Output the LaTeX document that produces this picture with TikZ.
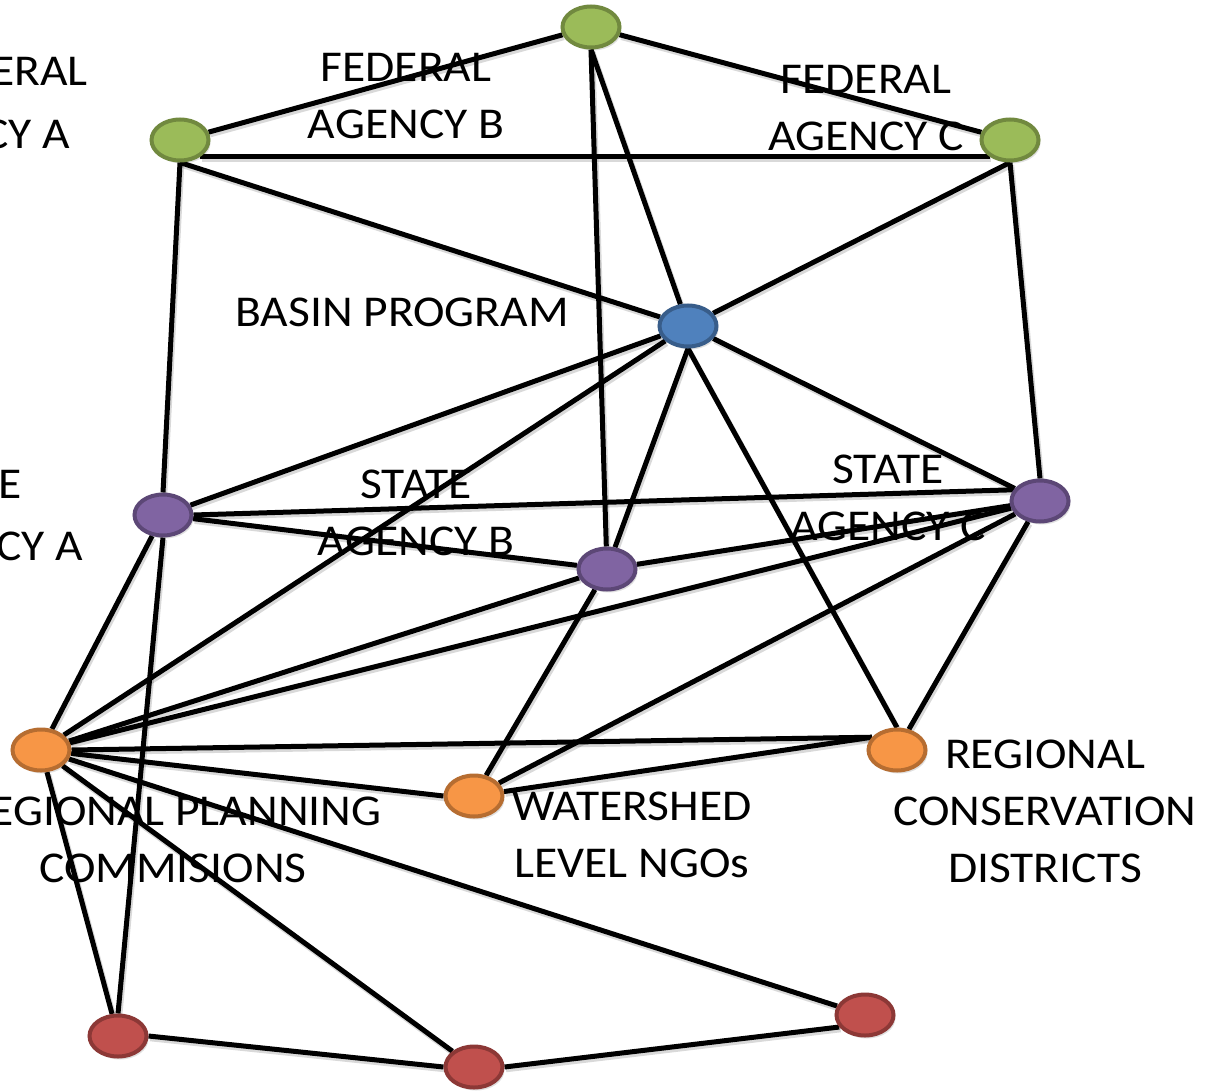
\documentclass[tikz,border=0pt]{standalone}
\usepackage{fontspec}
\setmainfont{Carlito}[FakeStretch=1.08]
\usetikzlibrary{shapes.geometric}
\pgfdeclarelayer{bg}
\pgfsetlayers{bg,main}

\definecolor{fedFill}{HTML}{9BBB59}\definecolor{fedLine}{HTML}{71893F}
\definecolor{basFill}{HTML}{4F81BD}\definecolor{basLine}{HTML}{385D8A}
\definecolor{staFill}{HTML}{8064A2}\definecolor{staLine}{HTML}{5C4776}
\definecolor{regFill}{HTML}{F79646}\definecolor{regLine}{HTML}{B66D31}
\definecolor{locFill}{HTML}{C0504D}\definecolor{locLine}{HTML}{8C3836}

\tikzset{
  actor/.style={ellipse, minimum width=57pt, minimum height=41pt, inner sep=0pt,
    line width=4pt,
    preaction={fill=black, opacity=0.12, transform canvas={shift={(2pt,-3pt)}}}},
  fedNode/.style={actor, fill=fedFill, draw=fedLine},
  basNode/.style={actor, fill=basFill, draw=basLine},
  staNode/.style={actor, fill=staFill, draw=staLine},
  regNode/.style={actor, fill=regFill, draw=regLine},
  locNode/.style={actor, fill=locFill, draw=locLine},
  tie/.style={line width=5pt, black,
    preaction={draw=black, opacity=0.15, line width=5.5pt,
      transform canvas={shift={(1.5pt,-2.5pt)}}}},
  lbl/.style={font=\fontsize{44}{57}\selectfont, align=center, inner sep=0pt},
}

\begin{document}
\begin{tikzpicture}[x=1pt, y=-1pt]
\useasboundingbox (0,0) rectangle (1217,1091);

% actors
\node[fedNode] (G1) at (591,27) {};
\node[fedNode] (G2) at (180,140) {};
\node[fedNode] (G3) at (1010,140) {};
\node[basNode] (B)  at (688,326) {};
\node[staNode] (P1) at (163,515) {};
\node[staNode] (P2) at (607,569) {};
\node[staNode] (P3) at (1040,501) {};
\node[regNode] (O1) at (41,750) {};
\node[regNode] (O2) at (474,796) {};
\node[regNode] (O3) at (897,750) {};
\node[locNode] (R1) at (118,1036) {};
\node[locNode] (R2) at (474,1067) {};
\node[locNode] (R3) at (865,1015) {};

% labels (base anchor = baseline of the last line)
\node[lbl, anchor=base east] (fedA1) at (88,86) {FEDERAL};
\node[lbl, anchor=base east] (fedA2) at (70,149) {AGENCY A};
\node[lbl, anchor=base] (fedB) at (406,139) {FEDERAL\\AGENCY B};
\node[lbl, anchor=base] (fedC) at (866,151) {FEDERAL\\AGENCY C};
\node[lbl, anchor=base] (basin) at (402,326) {BASIN PROGRAM};
\node[lbl, anchor=base east] (staA1) at (22,498) {STATE};
\node[lbl, anchor=base east] (staA2) at (83,560) {AGENCY A};
\node[lbl, anchor=base] (staB) at (416,555) {STATE\\AGENCY B};
\node[lbl, anchor=base] (staC) at (888,540) {STATE\\AGENCY C};
\node[lbl, anchor=base] (rpc) at (173,882) {REGIONAL PLANNING\\COMMISIONS};
\node[lbl, anchor=base] (ngo) at (632,877) {WATERSHED\\LEVEL NGOs};
\node[lbl, anchor=base] (rcd) at (1045,882) {REGIONAL\\CONSERVATION\\DISTRICTS};

% ties
\begin{pgfonlayer}{bg}
\draw[tie] (G1) -- (G2);
\draw[tie] (G1) -- (G3);
\draw[tie] (G2.-40) -- (G3.220);
\draw[tie] (G1.south) -- (B);
\draw[tie] (G1.south) -- (P2);
\draw[tie] (G2.south) -- (B);
\draw[tie] (G2.south) -- (P1.north);
\draw[tie] (G3.south) -- (B);
\draw[tie] (G3.south) -- (P3.north);
\draw[tie] (B) -- (P1);
\draw[tie] (B) -- (O1);
\draw[tie] (B.south) -- (P2);
\draw[tie] (B.south) -- (O3.north);
\draw[tie] (B) -- (P3);
\draw[tie] (P1.east) -- (P3.157);
\draw[tie] (P1) -- (P2);
\draw[tie] (P1) -- (O1);
\draw[tie] (P1.south) -- (R1.north);
\draw[tie] (P2) -- (P3);
\draw[tie] (P2) -- (O1);
\draw[tie] (P2) -- (O2);
\draw[tie] (P3) -- (O1);
\draw[tie] (P3) -- (O2);
\draw[tie] (P3) -- (O3);
\draw[tie] (O1.east) -- (O3.153);
\draw[tie] (O1) -- (O2.west);
\draw[tie] (O2) -- (O3.153);
\draw[tie] (O1) -- (R1);
\draw[tie] (O1) -- (R2);
\draw[tie] (O1) -- (R3);
\draw[tie] (R1.east) -- (R2.west);
\draw[tie] (R2.east) -- (R3.205);
\end{pgfonlayer}
\end{tikzpicture}
\end{document}
